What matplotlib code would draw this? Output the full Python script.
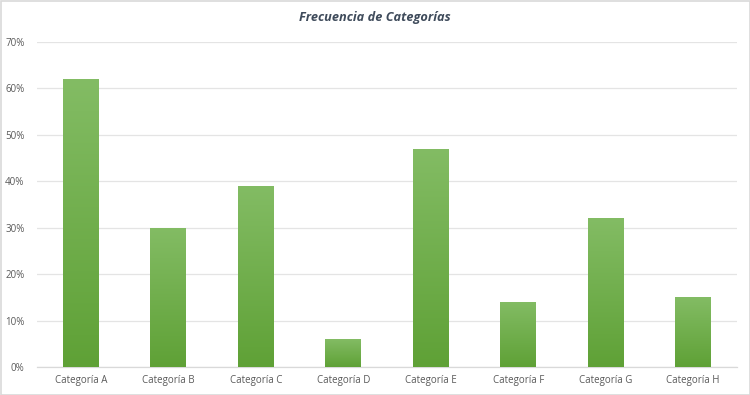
import matplotlib
matplotlib.use("Agg")
import matplotlib.pyplot as plt
import numpy as np
from matplotlib.colors import LinearSegmentedColormap
from matplotlib.patches import Rectangle

categories = ["Categoría A", "Categoría B", "Categoría C", "Categoría D",
              "Categoría E", "Categoría F", "Categoría G", "Categoría H"]
values = [0.62, 0.30, 0.39, 0.06, 0.47, 0.14, 0.32, 0.15]
yticks = [0.0, 0.1, 0.2, 0.3, 0.4, 0.5, 0.6, 0.7]
title = "Frecuencia de Categorías"

plt.rcParams['font.family'] = ['Open Sans', 'DejaVu Sans']

fig = plt.figure(figsize=(7.5, 3.95), dpi=100)
ax = fig.add_axes([37/750, 1-367/395, 700/750, 325/395])

x = np.arange(len(categories))
bars = ax.bar(x, values, width=0.41, color='none', edgecolor='none', zorder=3)

cmap = LinearSegmentedColormap.from_list("g", ["#5FA136", "#83BC64"])
grad = np.linspace(0, 1, 256).reshape(-1, 1)
for b in bars:
    x0, y0 = b.get_x(), b.get_y()
    w, h = b.get_width(), b.get_height()
    im = ax.imshow(grad, extent=[x0, x0 + w, y0, y0 + h], origin='lower',
                   cmap=cmap, aspect='auto', zorder=3, interpolation='bilinear')
    im.set_clip_path(b)

ax.set_xlim(-0.5, len(categories) - 0.5)
ax.set_ylim(0, 0.7)
ax.set_yticks(yticks)
ax.set_yticklabels([f"{int(round(t*100))}%" for t in yticks])
ax.set_xticks(x)
ax.set_xticklabels(categories)
ax.tick_params(axis='both', length=0, labelsize=7, labelcolor='#595959')
ax.tick_params(axis='y', pad=9)
ax.tick_params(axis='x', pad=6)
ax.grid(axis='y', color='#E4E4E4', linewidth=0.9, zorder=0)
for s in ['top', 'right', 'left']:
    ax.spines[s].set_visible(False)
ax.spines['bottom'].set_color('#D9D9D9')
ax.spines['bottom'].set_linewidth(0.9)

fig.text(0.5, 1-18/395, title, ha='center', va='center', fontsize=9.2,
         style='italic', fontweight='bold', color='#3F4B5B')

fig.patches.append(Rectangle((0.5/750, 0.5/395), 749/750, 394/395, transform=fig.transFigure,
                             fill=False, edgecolor='#D9D9D9', linewidth=1.2))

fig.savefig("out.png", dpi=100)
